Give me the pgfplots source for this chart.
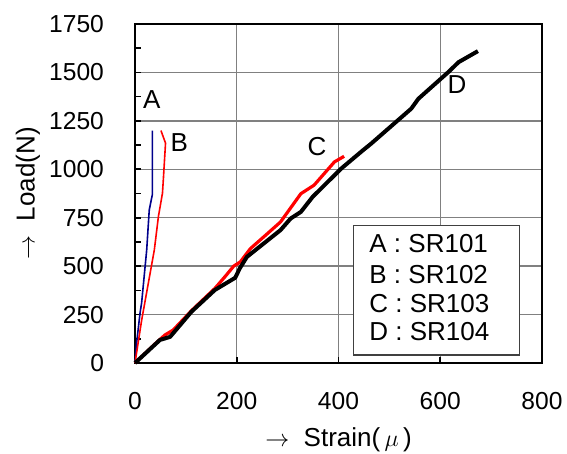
\documentclass[border=0pt]{standalone}
\usepackage{fontspec}
\setmainfont{Liberation Sans}
\usepackage{pgfplots}
\pgfplotsset{compat=1.18}
\usetikzlibrary{calc}
\definecolor{navyA}{RGB}{0,0,140}
\definecolor{gridgray}{RGB}{128,128,128}

\begin{document}
\fontsize{13}{15}\selectfont
\begin{tikzpicture}
\begin{axis}[
  scale only axis,
  width=203.5pt, height=169.5pt,
  xmin=0, xmax=800, ymin=0, ymax=1750,
  xtick={0,200,...,800},
  ytick={0,250,...,1750},
  minor y tick num=1,
  tick pos=left,
  tick align=inside,
  major tick length=3pt, minor tick length=3pt,
  grid=major,
  grid style={gridgray, line width=0.7pt},
  axis line style={line width=1.2pt},
  tick style={black, line width=0.8pt},
  ticklabel style={font=\fontsize{12.3}{14}\selectfont},
  label style={font=\fontsize{13}{15}\selectfont},
  /pgf/number format/assume math mode=true,
  /pgf/number format/1000 sep={},
  yticklabel style={xshift=-11pt},
  xticklabel style={yshift=-10pt},
  xlabel={$\rightarrow$\ \ Strain(\,$\mu$\,)},
  ylabel={$\rightarrow$\ \ Load(N)},
  xlabel style={at={(axis description cs:0.5,-0.227)}, anchor=center},
  ylabel style={at={(axis description cs:-0.263,0.5)}, anchor=center},
  clip=false,
]
% SR101
\addplot[navyA, line width=0.8pt] coordinates {
  (0,0)(3,100)(10,260)(13,310)(23,584)(28,790)(34,868)(34,1200)
};
% SR102
\addplot[red, line width=0.8pt] coordinates {
  (0,0)(13,220)(38,584)(46,756)(54,877)(56,960)(60,1135)(51,1200)
};
% SR103
\addplot[red, line width=1.6pt, line join=round] coordinates {
  (0,0)(40,100)(59,145)(75,170)(111,270)(157,385)(177,446)(194,500)
  (207,522)(227,591)(253,651)(286,728)(326,874)(352,918)(392,1038)(411,1067)
};
% SR104
\addplot[black, line width=2pt, line join=round] coordinates {
  (0,0)(49,119)(69,135)(111,265)(157,377)(197,440)(206,489)(220,548)
  (286,686)(306,746)(326,780)(349,857)(405,1003)(448,1098)(464,1132)
  (543,1313)(557,1364)(616,1502)(636,1553)(674,1610)
};
% curve labels
\node[inner sep=0] at (axis cs:33,1359) {A};
\node[inner sep=0] at (axis cs:87,1137) {B};
\node[inner sep=0] at (axis cs:358,1116) {C};
\node[inner sep=0] at (axis cs:633,1437) {D};
% key box
\draw[black!75, line width=0.6pt, fill=white] (axis cs:429,41) rectangle (axis cs:755,708);
\node[anchor=west, inner sep=0] at (axis cs:460,615) {A : SR101};
\node[anchor=west, inner sep=0] at (axis cs:460,455) {B : SR102};
\node[anchor=west, inner sep=0] at (axis cs:460,309) {C : SR103};
\node[anchor=west, inner sep=0] at (axis cs:460,162) {D : SR104};
\coordinate (sw) at (rel axis cs:0,0);
\coordinate (ne) at (rel axis cs:1,1);
\end{axis}
\pgfresetboundingbox
\path ($(sw)+(-67.5pt,-45pt)$) rectangle ($(ne)+(12.5pt,12pt)$);
\end{tikzpicture}
\end{document}
